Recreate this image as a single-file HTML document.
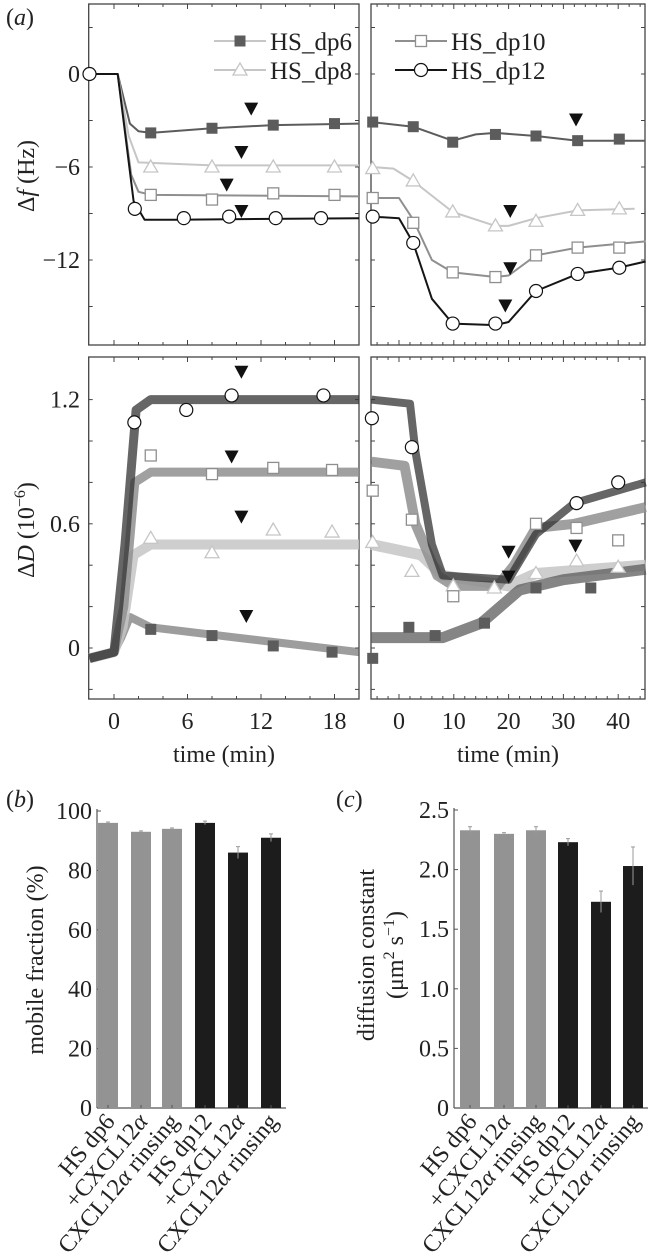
<!DOCTYPE html>
<html><head><meta charset="utf-8"><style>
html,body{margin:0;padding:0;background:#fff;}
svg{display:block;font-family:"Liberation Serif",serif;}
</style></head><body>
<svg id="fig" width="655" height="1258" viewBox="0 0 655 1258" xmlns="http://www.w3.org/2000/svg"></svg>
<script>
// ---------- data ----------
const seriesNames = ['HS_dp6','HS_dp8','HS_dp10','HS_dp12'];
const fL_dp6  = [[-2,0],[0.3,0],[1.3,-3.2],[2,-3.7],[3,-3.8],[8,-3.5],[13,-3.3],[20,-3.2]];
const fL_dp8  = [[-2,0],[0.3,0],[1.2,-4],[2,-5.7],[8,-5.9],[20,-5.9]];
const fL_dp10 = [[-2,0],[0.3,0],[1.4,-6.5],[2,-7.6],[3,-7.8],[20,-7.9]];
const fL_dp12 = [[-2,0],[0.3,0],[1.6,-8.2],[2.5,-9.4],[5,-9.4],[20,-9.3]];
const fL_m_t  = [3,8,13,18];
const fL_m6   = [-3.8,-3.5,-3.3,-3.2];
const fL_m8   = [-6,-6,-6,-6];
const fL_m10  = [-7.8,-8.1,-7.7,-7.8];
const fL_m12t = [-2,1.7,5.7,9.4,13.2,16.9];
const fL_m12  = [0,-8.7,-9.3,-9.2,-9.3,-9.3];
const fL_arrT = [11.2,10.4,9.2,10.4];
const fL_arrV = [-2.3,-5.1,-7.2,-8.9];
const fR_dp6  = [[-5,-3.1],[2.6,-3.4],[9.8,-4.3],[14,-3.9],[17.6,-3.8],[25,-4.0],[32.6,-4.3],[45,-4.3]];
const fR_dp8  = [[-5,-6.0],[-1,-6.1],[2.6,-6.9],[9.8,-8.9],[17.6,-9.8],[20,-9.8],[25,-9.3],[32.6,-8.8],[43,-8.7]];
const fR_dp10 = [[-5,-8.0],[0,-8.0],[2.6,-9.4],[6,-12],[9.8,-12.8],[17.6,-13.1],[20,-13],[25,-11.7],[32.6,-11.2],[45,-10.8]];
const fR_dp12 = [[-5,-9.2],[0,-9.3],[2.6,-10.9],[6,-14.5],[9.8,-16.1],[17.6,-16.2],[20,-16],[25,-14.0],[32.6,-12.9],[40,-12.5],[45,-12.1]];
const fR_m_t  = [-4.8,2.6,9.8,17.6,25,32.6,40.2];
const fR_m6   = [-3.1,-3.4,-4.4,-3.9,-4.0,-4.3,-4.2];
const fR_m8   = [-6.1,-6.9,-8.9,-9.8,-9.5,-8.8,-8.7];
const fR_m10  = [-8.0,-9.6,-12.8,-13.1,-11.7,-11.2,-11.2];
const fR_m12  = [-9.2,-10.9,-16.1,-16.1,-14.0,-12.9,-12.5];
const fR_arrT = [32.3,20.3,20.3,19.4];
const fR_arrV = [-3.0,-8.9,-12.6,-15.0];
const dL_dp6  = [[-2,-0.05],[0,-0.02],[0.6,0.05],[1.3,0.15],[3,0.1],[10,0.05],[20,-0.02]];
const dL_dp8  = [[-2,-0.05],[0,-0.02],[0.7,0.1],[1.6,0.45],[3,0.5],[20,0.5]];
const dL_dp10 = [[-2,-0.05],[0,-0.02],[0.8,0.2],[1.7,0.8],[3,0.85],[20,0.85]];
const dL_dp12 = [[-2,-0.05],[0,-0.02],[0.9,0.5],[1.8,1.15],[3,1.2],[20,1.2]];
const dL_m_t  = [3,8,13,17.8];
const dL_m12t = [1.66,5.9,9.6,17.1];
const dL_m6   = [0.09,0.06,0.01,-0.02];
const dL_m8   = [0.53,0.46,0.57,0.56];
const dL_m10  = [0.93,0.84,0.87,0.86];
const dL_m12  = [1.09,1.15,1.22,1.22];
const dL_arrT = [10.8,10.4,9.6,10.4];
const dL_arrV = [0.15,0.63,0.92,1.33];
const dR_dp6  = [[-5,0.05],[8,0.05],[15,0.12],[22,0.28],[30,0.33],[45,0.38]];
const dR_dp8  = [[-5,0.5],[4,0.45],[8,0.35],[20,0.3],[25,0.36],[45,0.4]];
const dR_dp10 = [[-5,0.9],[1,0.88],[3,0.6],[7,0.35],[10,0.3],[18,0.3],[21,0.4],[25,0.58],[32,0.6],[45,0.68]];
const dR_dp12 = [[-5,1.2],[2,1.18],[3,0.95],[6,0.5],[8,0.35],[20,0.33],[25,0.55],[32,0.7],[45,0.8]];
const dR_m6t  = [-4.8,1.8,6.6,15.6,25,35];
const dR_m6   = [-0.05,0.1,0.06,0.12,0.29,0.29];
const dR_m8t  = [-4.8,2.35,9.9,17.4,25,32.4,40];
const dR_m8   = [0.51,0.37,0.30,0.29,0.36,0.42,0.39];
const dR_m10t = [-4.8,2.35,9.9,25,32.4,40];
const dR_m10  = [0.76,0.62,0.25,0.60,0.58,0.52];
const dR_m12t = [-4.95,2.35,32.4,40];
const dR_m12  = [1.11,0.97,0.70,0.80];
const dR_arrT = [20,32.2,20];
const dR_arrV = [0.34,0.49,0.46];
const barCats = ['HS dp6','+CXCL12α','CXCL12α rinsing','HS dp12','+CXCL12α','CXCL12α rinsing'];
const mobileFrac = [96,93,94,96,86,91];
const mobileErr  = [0.3,0.3,0.3,0.6,2,1.3];
const diffConst  = [2.33,2.30,2.33,2.23,1.73,2.03];
const diffErr    = [0.03,0.01,0.03,0.03,0.09,0.16];
const barGroup   = [0,0,0,1,1,1];

// ---------- drawing ----------
const NS='http://www.w3.org/2000/svg';
const svg=document.getElementById('fig');
function mk(tag,attrs,parent){const e=document.createElementNS(NS,tag);for(const k in attrs)e.setAttribute(k,attrs[k]);(parent||svg).appendChild(e);return e;}
function txt(s,attrs,parent){const e=mk('text',attrs,parent);e.textContent=s;return e;}
const col={dp6:'#5c5c5c',dp8:'#c6c6c6',dp10:'#8f8f8f',dp12:'#151515'};
const FS=24;

function panel(x0,x1,y0,y1){return {x0,x1,y0,y1};}
const TL=panel(88.7,359,4,345), TR=panel(371,645,4,345), BL=panel(88.7,359,357,699), BR=panel(371,645,357,699);
TL.x=t=>114+t*12.25; BL.x=TL.x;
TR.x=t=>399+t*5.48; BR.x=TR.x;
TL.y=v=>74-v/6*93; TR.y=TL.y;
BL.y=v=>648-v*207; BR.y=BL.y;

function frame(P,name,xt,minorStep,tmin,tmax,yMinor){
  const g=mk('g',{});
  
  
  mk('rect',{x:P.x0,y:P.y0,width:P.x1-P.x0,height:P.y1-P.y0,fill:'none',stroke:'#444','stroke-width':1.3},g);
  for(let t=Math.ceil(tmin/minorStep)*minorStep;t<=tmax;t+=minorStep){
    const X=P.x(t);if(X<=P.x0+1||X>=P.x1-1)continue;
    const L=xt.includes(t)?5:3;
    mk('line',{x1:X,x2:X,y1:P.y1,y2:P.y1-L,stroke:'#444','stroke-width':1},g);
    mk('line',{x1:X,x2:X,y1:P.y0,y2:P.y0+L,stroke:'#444','stroke-width':1},g);
  }
  yMinor.forEach(v=>{const Y=P.y(v);if(Y<=P.y0+1||Y>=P.y1-1)return;
    mk('line',{x1:P.x0,x2:P.x0+4,y1:Y,y2:Y,stroke:'#444','stroke-width':1},g);
    mk('line',{x1:P.x1,x2:P.x1-4,y1:Y,y2:Y,stroke:'#444','stroke-width':1},g);});
  return g;
}
function trace(P,pts,color,w,name,op){
  const d=pts.map((p,i)=>(i?'L':'M')+P.x(p[0]).toFixed(1)+','+P.y(p[1]).toFixed(1)).join(' ');
  const e=mk('path',{d:d,fill:'none',stroke:color,'stroke-width':w,'stroke-linejoin':'round','stroke-opacity':op||1});
  
  
  return e;
}
function marker(type,X,Y,name){
  let e;
  if(type==='dp6'){e=mk('rect',{x:X-5.5,y:Y-5.5,width:11,height:11,fill:col.dp6});}
  else if(type==='dp10'){e=mk('rect',{x:X-5.5,y:Y-5.5,width:11,height:11,fill:'#fff',stroke:col.dp10,'stroke-width':1.3});}
  else if(type==='dp8'){e=mk('polygon',{points:`${X},${Y-7} ${X-7},${Y+5} ${X+7},${Y+5}`,fill:'#fff',stroke:col.dp8,'stroke-width':1.3});}
  else {e=mk('circle',{cx:X,cy:Y,r:6.5,fill:'#fff',stroke:'#111','stroke-width':1.2});}
  
  
}
function arrow(P,t,v,name){
  const X=P.x(t),Y=P.y(v);
  const e=mk('polygon',{points:`${X-7},${Y-7} ${X+7},${Y-7} ${X},${Y+6}`,fill:'#111'});
  
  
}
function markers(P,type,ts,vs,name){ts.forEach((t,i)=>marker(type,P.x(t),P.y(vs[i]),name));}

frame(TL,'df-left-axes',[0,6,12,18],2,-2,20,[3,0,-3,-6,-9,-12,-15]);
frame(TR,'df-right-axes',[0,10,20,30,40],2,-4,44,[3,0,-3,-6,-9,-12,-15]);
frame(BL,'dd-left-axes',[0,6,12,18],2,-2,20,[-0.2,0,0.2,0.4,0.6,0.8,1.0,1.2]);
frame(BR,'dd-right-axes',[0,10,20,30,40],2,-4,44,[-0.2,0,0.2,0.4,0.6,0.8,1.0,1.2]);

trace(TL,fL_dp6,col.dp6,2,'df-left-dp6');
trace(TL,fL_dp8,col.dp8,2,'df-left-dp8');
trace(TL,fL_dp10,col.dp10,2,'df-left-dp10');
trace(TL,fL_dp12,col.dp12,2,'df-left-dp12');
markers(TL,'dp6',fL_m_t,fL_m6,'df-left-dp6-marker');
markers(TL,'dp8',fL_m_t,fL_m8,'df-left-dp8-marker');
markers(TL,'dp10',fL_m_t,fL_m10,'df-left-dp10-marker');
markers(TL,'dp12',fL_m12t,fL_m12,'df-left-dp12-marker');
fL_arrT.forEach((t,i)=>arrow(TL,t,fL_arrV[i],'df-left-arrow'));
trace(TR,fR_dp6,col.dp6,2,'df-right-dp6');
trace(TR,fR_dp8,col.dp8,2,'df-right-dp8');
trace(TR,fR_dp10,col.dp10,2,'df-right-dp10');
trace(TR,fR_dp12,col.dp12,2,'df-right-dp12');
markers(TR,'dp6',fR_m_t,fR_m6,'df-right-dp6-marker');
markers(TR,'dp8',fR_m_t,fR_m8,'df-right-dp8-marker');
markers(TR,'dp10',fR_m_t,fR_m10,'df-right-dp10-marker');
markers(TR,'dp12',fR_m_t,fR_m12,'df-right-dp12-marker');
fR_arrT.forEach((t,i)=>arrow(TR,t,fR_arrV[i],'df-right-arrow'));
trace(BL,dL_dp6,col.dp6,8,'dd-left-dp6',0.6);
trace(BL,dL_dp8,col.dp8,10,'dd-left-dp8',0.85);
trace(BL,dL_dp10,col.dp10,9,'dd-left-dp10',0.85);
trace(BL,dL_dp12,'#333',9,'dd-left-dp12',0.75);
markers(BL,'dp6',dL_m_t,dL_m6,'dd-left-dp6-marker');
markers(BL,'dp8',dL_m_t,dL_m8,'dd-left-dp8-marker');
markers(BL,'dp10',dL_m_t,dL_m10,'dd-left-dp10-marker');
markers(BL,'dp12',dL_m12t,dL_m12,'dd-left-dp12-marker');
dL_arrT.forEach((t,i)=>arrow(BL,t,dL_arrV[i],'dd-left-arrow'));
trace(BR,dR_dp8,col.dp8,11,'dd-right-dp8',0.85);
trace(BR,dR_dp6,col.dp6,11,'dd-right-dp6',0.75);
trace(BR,dR_dp10,col.dp10,10,'dd-right-dp10',0.85);
trace(BR,dR_dp12,'#333',8,'dd-right-dp12',0.75);
markers(BR,'dp6',dR_m6t,dR_m6,'dd-right-dp6-marker');
markers(BR,'dp8',dR_m8t,dR_m8,'dd-right-dp8-marker');
markers(BR,'dp10',dR_m10t,dR_m10,'dd-right-dp10-marker');
markers(BR,'dp12',dR_m12t,dR_m12,'dd-right-dp12-marker');
dR_arrT.forEach((t,i)=>arrow(BR,t,dR_arrV[i],'dd-right-arrow'));

const fTicks=[0,-6,-12], dTicks=[1.2,0.6,0];
fTicks.forEach(v=>txt(v<0?'−'+(-v):String(v),{x:80,y:TL.y(v)+8,'font-size':FS,'text-anchor':'end',fill:'#222'}));
dTicks.forEach(v=>txt(v===0?'0':v.toFixed(1),{x:80,y:BL.y(v)+8,'font-size':FS,'text-anchor':'end',fill:'#222'}));
[0,6,12,18].forEach(t=>txt(String(t),{x:BL.x(t),y:729,'font-size':FS,'text-anchor':'middle',fill:'#222'}));
[0,10,20,30,40].forEach(t=>txt(String(t),{x:BR.x(t),y:729,'font-size':FS,'text-anchor':'middle',fill:'#222'}));
txt('time (min)',{x:224,y:762,'font-size':FS,'text-anchor':'middle',fill:'#222'});
txt('time (min)',{x:508,y:762,'font-size':FS,'text-anchor':'middle',fill:'#222'});
const yl1=txt('',{transform:'translate(34,176) rotate(-90)','font-size':FS,'text-anchor':'middle',fill:'#222'});
yl1.innerHTML='Δ<tspan font-style="italic">f</tspan> (Hz)';

const yl2=txt('',{transform:'translate(34,530) rotate(-90)','font-size':FS,'text-anchor':'middle',fill:'#222'});
yl2.innerHTML='Δ<tspan font-style="italic">D</tspan> (10<tspan dy="-9" font-size="16">−6</tspan><tspan dy="9">)</tspan>';

txt('',{x:6,y:25,'font-size':FS,fill:'#222'}).innerHTML='(<tspan font-style="italic">a</tspan>)';

const legItems=[['dp6',214,41],['dp8',214,70],['dp10',395,41],['dp12',395,70]];
legItems.forEach((it,i)=>{
  const [k,x,y]=it;
  const ln=mk('line',{x1:x,x2:x+52,y1:y,y2:y,stroke:k==='dp6'?col.dp8:col[k],'stroke-width':2});
  
  
  marker(k,x+26,y,'legend-marker-'+k);
  const t=txt(seriesNames[i],{x:x+56,y:y+9,'font-size':25,fill:'#222'});
  
  
});

function barChart(ax,x1,yTop,yBot,vmax,vals,errs,centers,ticks,fmt,name){
  const y=v=>yBot-v/vmax*(yBot-yTop);
  const g=mk('g',{});
  
  
  mk('line',{x1:ax,x2:ax,y1:yTop-2,y2:yBot,stroke:'#555','stroke-width':1.2},g);
  mk('line',{x1:ax,x2:x1,y1:yBot,y2:yBot,stroke:'#555','stroke-width':1.2},g);
  ticks.forEach(v=>{mk('line',{x1:ax,x2:ax+4,y1:y(v),y2:y(v),stroke:'#555'},g);
    txt(fmt(v),{x:ax-5,y:y(v)+8,'font-size':FS,'text-anchor':'end',fill:'#222'},g);});
  vals.forEach((v,i)=>{
    const cx=centers[i];
    const r=mk('rect',{x:cx-10,y:y(v),width:20,height:yBot-y(v),fill:barGroup[i]?'#1c1c1c':'#939393'},g);
    
    
    const e=errs[i];
    mk('line',{x1:cx,x2:cx,y1:y(v+e),y2:y(v-e),stroke:'#999','stroke-width':1},g);
    mk('line',{x1:cx-2,x2:cx+2,y1:y(v+e),y2:y(v+e),stroke:'#999','stroke-width':1},g);
    mk('line',{x1:cx,x2:cx,y1:yBot,y2:yBot-3,stroke:'#555'},g);
    const t=txt('',{transform:`translate(${cx+8},${yBot+14}) rotate(-50)`,'font-size':FS,'text-anchor':'end',fill:'#222'},g);
    t.innerHTML=barCats[i].replace(/α/g,'<tspan font-style="italic">α</tspan>');
    
  });
}
barChart(97,286,811,1108,100,mobileFrac,mobileErr,[108,141,172,205,238,271],[0,20,40,60,80,100],v=>String(v),'mobile-fraction-chart');
barChart(454,648,810,1108,2.5,diffConst,diffErr,[470,504,536,568,601,633],[0,0.5,1,1.5,2,2.5],v=>v===0?'0':v.toFixed(1),'diffusion-chart');
txt('',{x:6,y:807,'font-size':FS,fill:'#222'}).innerHTML='(<tspan font-style="italic">b</tspan>)';
txt('',{x:336,y:807,'font-size':FS,fill:'#222'}).innerHTML='(<tspan font-style="italic">c</tspan>)';
const yb=txt('mobile fraction (%)',{transform:'translate(43,960) rotate(-90)','font-size':FS,'text-anchor':'middle',fill:'#222'});

const yc1=txt('diffusion constant',{transform:'translate(374,955) rotate(-90)','font-size':FS,'text-anchor':'middle',fill:'#222'});

const yc2=txt('',{transform:'translate(403,955) rotate(-90)','font-size':FS,'text-anchor':'middle',fill:'#222'});
yc2.innerHTML='(μm<tspan dy="-9" font-size="16">2</tspan><tspan dy="9"> s</tspan><tspan dy="-9" font-size="16">−1</tspan><tspan dy="9">)</tspan>';

</script>
</body></html>
